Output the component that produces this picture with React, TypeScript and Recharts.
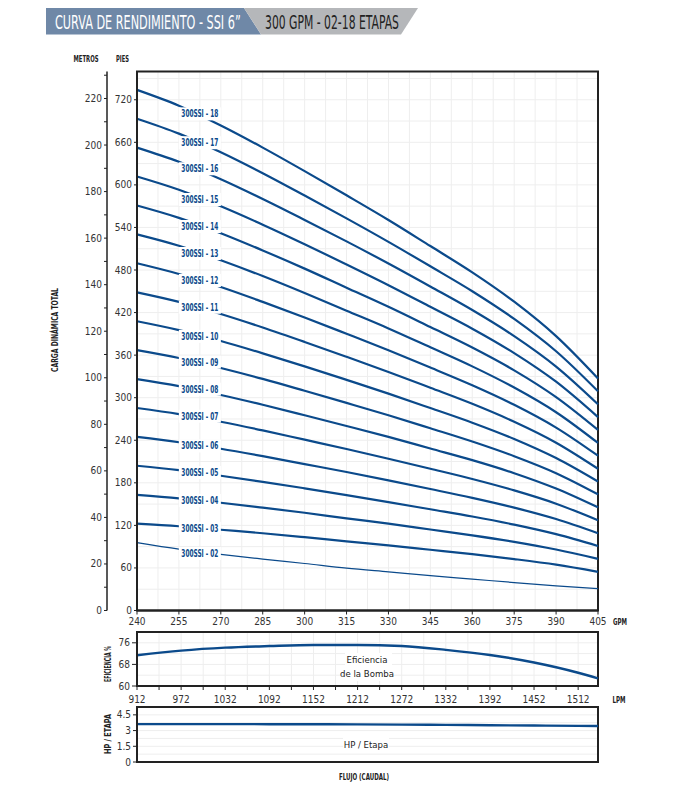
import React from "react";
import { LineChart, Line, XAxis, YAxis, CartesianGrid, ReferenceDot, ReferenceArea } from "recharts";

// caudal (GPM) en el que se leyeron las curvas
const gpm = [240, 255, 270, 285, 300, 315, 330, 345, 360, 375, 390, 405];

// carga dinámica total (metros) por número de etapas
const s02 = [29.2, 26.4, 24.1, 22.1, 20.2, 18.2, 16.6, 15.0, 13.5, 12.0, 10.6, 9.4];
const s03 = [37.3, 36.2, 34.7, 33.2, 31.5, 29.7, 28.0, 26.1, 24.2, 22.1, 19.7, 16.6];
const s04 = [49.7, 48.2, 46.3, 44.2, 42.0, 39.6, 37.3, 34.8, 32.3, 29.5, 26.2, 22.2];
const s05 = [62.2, 60.3, 57.9, 55.3, 52.5, 49.6, 46.6, 43.5, 40.4, 36.9, 32.8, 27.7];
const s06 = [74.6, 72.3, 69.5, 66.3, 62.9, 59.5, 55.9, 52.2, 48.4, 44.2, 39.3, 33.2];
const s07 = [87.0, 84.4, 81.1, 77.4, 73.4, 69.4, 65.2, 60.9, 56.5, 51.6, 45.9, 38.8];
const s08 = [99.4, 96.4, 92.6, 88.4, 83.9, 79.3, 74.6, 69.6, 64.6, 59.0, 52.4, 44.3];
const s09 = [111.9, 108.5, 104.2, 99.5, 94.4, 89.2, 83.9, 78.3, 72.6, 66.3, 59.0, 49.9];
const s10 = [124.3, 120.5, 115.8, 110.5, 104.9, 99.1, 93.2, 87.0, 80.7, 73.7, 65.5, 55.4];
const s11 = [136.7, 132.6, 127.4, 121.6, 115.4, 109.0, 102.5, 95.7, 88.8, 81.1, 72.1, 60.9];
const s12 = [149.2, 144.6, 139.0, 132.6, 125.9, 118.9, 111.8, 104.4, 96.8, 88.4, 78.6, 66.5];
const s13 = [161.6, 156.7, 150.5, 143.7, 136.4, 128.8, 121.2, 113.1, 104.9, 95.8, 85.2, 72.0];
const s14 = [174.0, 168.7, 162.1, 154.7, 146.9, 138.7, 130.5, 121.8, 113.0, 103.2, 91.7, 77.6];
const s15 = [186.5, 180.8, 173.7, 165.8, 157.4, 148.7, 139.8, 130.5, 121.1, 110.6, 98.3, 83.1];
const s16 = [198.9, 192.8, 185.3, 176.8, 167.8, 158.6, 149.1, 139.2, 129.1, 117.9, 104.8, 88.6];
const s17 = [211.3, 204.9, 196.9, 187.9, 178.3, 168.5, 158.4, 147.9, 137.2, 125.3, 111.4, 94.2];
const s18 = [223.7, 216.9, 208.4, 198.9, 188.8, 178.4, 167.8, 156.6, 145.3, 132.7, 117.9, 99.7];

const stages = ["02", "03", "04", "05", "06", "07", "08", "09", "10", "11", "12", "13", "14", "15", "16", "17", "18"];
const stageSeries = [s02, s03, s04, s05, s06, s07, s08, s09, s10, s11, s12, s13, s14, s15, s16, s17, s18];
// altura (m) de la etiqueta de cada curva
const tagHead = [24.5, 35.3, 47.3, 59.3, 70.7, 83.5, 95.1, 106.7, 117.8, 130.3, 141.8, 153.4, 165.0, 176.6, 189.8, 201.0, 213.4];
const tagGpm = 262.5;

const metrosTicks = [0, 10, 20, 30, 40, 50, 60, 70, 80, 90, 100, 110, 120, 130, 140, 150, 160, 170, 180, 190, 200, 210, 220, 230];
const piesTicks = [0, 60, 120, 180, 240, 300, 360, 420, 480, 540, 600, 660, 720];
const piesGrid = [30, 60, 90, 120, 150, 180, 210, 240, 270, 300, 330, 360, 390, 420, 450, 480, 510, 540, 570, 600, 630, 660, 690, 720, 750];
const gpmTicks = [240, 255, 270, 285, 300, 315, 330, 345, 360, 375, 390, 405];
const gpmGrid = [247.5, 255, 262.5, 270, 277.5, 285, 292.5, 300, 307.5, 315, 322.5, 330, 337.5, 345, 352.5, 360, 367.5, 375, 382.5, 390, 397.5];

// eficiencia y HP por etapa, contra LPM
const lpm = [912, 972, 1032, 1092, 1152, 1212, 1272, 1332, 1392, 1452, 1512, 1539];
const eficiencia = [71.4, 73.1, 74.2, 74.8, 75.2, 75.2, 74.8, 73.4, 71.5, 68.7, 64.9, 62.8];
const hpEtapa = [3.62, 3.62, 3.62, 3.61, 3.6, 3.59, 3.57, 3.54, 3.51, 3.48, 3.45, 3.43];
const lpmTicks = [912, 942, 972, 1002, 1032, 1062, 1092, 1122, 1152, 1182, 1212, 1242, 1272, 1302, 1332, 1362, 1392, 1422, 1452, 1482, 1512];
const effTicks = [60, 68, 76];
const hpTicks = [0, 1.5, 3, 4.5];

const FT = 0.3048; // pies -> metros, para alinear el eje de pies con el de metros
const TOP_M = 231.6;

const headData = gpm.map((q, i) => {
  const row: any = { gpm: q };
  stages.forEach((st, k) => (row["s" + st] = stageSeries[k][i]));
  return row;
});
const lowerData = lpm.map((l, i) => ({ lpm: l, ef: eficiencia[i], hp: hpEtapa[i] }));

const COND = "'Liberation Sans Narrow', 'DejaVu Sans Condensed', 'Roboto Condensed', sans-serif";
const NAVY = "#0b4a8b";
const FRAME = "#222";

const TickText = (props: any) => {
  const { x, y, payload, show, fmt } = props;
  if (show && !show(payload.value)) return null;
  return (
    <text x={x} y={y} dy={props.dy ?? 3.5} textAnchor={props.textAnchor} fontFamily={COND} fontSize={10} fill="#333">
      {fmt ? fmt(payload.value) : payload.value}
    </text>
  );
};

const StageTag = (props: any) => {
  const { cx, cy, label } = props;
  return (
    <g>
      <rect x={cx - 21} y={cy - 6.5} width={42} height={13} fill="#fff" />
      <text x={cx} y={cy + 3.5} textAnchor="middle" fontFamily={COND} fontWeight="bold" fontSize={10.5}
        fill={NAVY} textLength={37} lengthAdjust="spacingAndGlyphs">
        {label}
      </text>
    </g>
  );
};

export default function App() {
  return (
    <div style={{ position: "absolute", left: 0, top: 0, width: 678, height: 792, background: "#fff" }}>
      {/* curvas de carga */}
      <div style={{ position: "absolute", left: 0, top: 0 }}>
        <LineChart width={678} height={640} data={headData} margin={{ top: 71.5, right: 80, bottom: 7.5, left: 77 }}>
          <CartesianGrid yAxisId="m" horizontalValues={piesGrid.map((f) => f * FT)} verticalValues={gpmGrid} stroke="#eeeeee" />
          <XAxis dataKey="gpm" type="number" domain={[240, 405]} ticks={gpmTicks} height={22} tickSize={4}
            axisLine={{ stroke: FRAME, strokeWidth: 2 }} tickLine={{ stroke: FRAME }}
            tick={<TickText dy={8} />} interval={0} />
          <YAxis yAxisId="ft" type="number" domain={[0, TOP_M]} allowDataOverflow ticks={piesTicks.map((f) => f * FT)} width={30} tickSize={3}
            axisLine={{ stroke: FRAME, strokeWidth: 2 }} tickLine={{ stroke: FRAME }} interval={0}
            tick={<TickText fmt={(v: number) => Math.round(v / FT)} />} />
          <YAxis yAxisId="m" type="number" domain={[0, TOP_M]} allowDataOverflow ticks={metrosTicks} width={30} tickSize={3}
            axisLine={{ stroke: FRAME, strokeWidth: 1.5 }} tickLine={{ stroke: FRAME }}
            tick={<TickText show={(v: number) => v % 20 === 0 && v <= 220} />} interval={0} />
          {stages.map((st) => (
            <Line key={st} yAxisId="m" dataKey={"s" + st} type="monotone" stroke={NAVY}
              strokeWidth={st === "02" ? 1.2 : 2.2} dot={false} isAnimationActive={false} />
          ))}
          <Line yAxisId="ft" dataKey="s02" stroke="none" dot={false} legendType="none" isAnimationActive={false} />
          {stages.map((st, k) => (
            <ReferenceDot key={"t" + st} yAxisId="m" x={tagGpm} y={tagHead[k]} r={0}
              shape={(p: any) => <StageTag {...p} label={`300SSI - ${st}`} />} />
          ))}
          <ReferenceArea yAxisId="m" x1={240} x2={405} y1={0} y2={TOP_M} fill="none" stroke={FRAME} strokeWidth={2} ifOverflow="visible" />
        </LineChart>
      </div>

      {/* eficiencia */}
      <div style={{ position: "absolute", left: 0, top: 620 }}>
        <LineChart width={678} height={90} data={lowerData} margin={{ top: 4, right: 80, bottom: 4, left: 107 }}>
          <CartesianGrid xAxisId="lpm" yAxisId="e" horizontalValues={[64, 68, 72, 76]} verticalValues={lpmTicks} stroke="#eeeeee" />
          <XAxis xAxisId="gpm" orientation="top" type="number" domain={[240, 405]} allowDataOverflow ticks={gpmTicks} height={8} tickSize={4}
            axisLine={false} tickLine={{ stroke: FRAME }} tick={false} />
          <XAxis xAxisId="lpm" dataKey="lpm" type="number" domain={[912, 1539]} ticks={lpmTicks} height={20} tickSize={4}
            axisLine={{ stroke: FRAME, strokeWidth: 2 }} tickLine={{ stroke: FRAME }} interval={0}
            tick={<TickText dy={11} show={(v: number) => (v - 912) % 60 === 0} />} />
          <YAxis yAxisId="e" type="number" domain={[60, 80]} ticks={effTicks} width={30} tickSize={5}
            axisLine={{ stroke: FRAME, strokeWidth: 2 }} tickLine={{ stroke: FRAME }} tick={<TickText />} interval={0} />
          <Line xAxisId="lpm" yAxisId="e" dataKey="ef" type="monotone" stroke={NAVY} strokeWidth={2.4} dot={false} isAnimationActive={false} />
          <Line xAxisId="gpm" yAxisId="e" dataKey="none" stroke="none" dot={false} isAnimationActive={false} />
          <ReferenceArea xAxisId="lpm" yAxisId="e" x1={912} x2={1539} y1={60} y2={80} fill="none" stroke={FRAME} strokeWidth={2} ifOverflow="visible" />
        </LineChart>
      </div>

      {/* HP por etapa */}
      <div style={{ position: "absolute", left: 0, top: 698 }}>
        <LineChart width={678} height={72} data={lowerData} margin={{ top: 3, right: 80, bottom: 8, left: 107 }}>
          <CartesianGrid xAxisId="lpm" yAxisId="h" horizontalValues={[0.75, 1.5, 2.25, 3, 3.75, 4.5]} verticalValues={lpmTicks} stroke="#eeeeee" />
          <XAxis xAxisId="lpm" dataKey="lpm" orientation="top" type="number" domain={[912, 1539]} ticks={lpmTicks} height={6} tickSize={4}
            axisLine={false} tickLine={{ stroke: FRAME }} tick={false} />
          <YAxis yAxisId="h" type="number" domain={[0, 5.25]} ticks={hpTicks} width={30} tickSize={4}
            axisLine={{ stroke: FRAME, strokeWidth: 2 }} tickLine={{ stroke: FRAME }} tick={<TickText />} interval={0} />
          <Line xAxisId="lpm" yAxisId="h" dataKey="hp" type="monotone" stroke={NAVY} strokeWidth={2.4} dot={false} isAnimationActive={false} />
          <ReferenceArea xAxisId="lpm" yAxisId="h" x1={912} x2={1539} y1={0} y2={5.25} fill="none" stroke={FRAME} strokeWidth={2} ifOverflow="visible" />
        </LineChart>
      </div>

      {/* textos */}
      <svg width={678} height={792} style={{ position: "absolute", left: 0, top: 0, pointerEvents: "none" }}>
        <polygon points="46,8 244,8 261,34.5 46,34.5" fill="#6f88a7" />
        <polygon points="244,8 418,8 401,34.5 261,34.5" fill="#b5b7ba" />
        <g transform="translate(55,28.5) scale(0.72,1)">
          <text x={0} y={0} fontFamily={COND} fontSize={19} fill="#fff" textLength={258} lengthAdjust="spacingAndGlyphs">
            CURVA DE RENDIMIENTO - SSI 6”
          </text>
        </g>
        <g transform="translate(265,28.5) scale(0.72,1)">
          <text x={0} y={0} fontFamily={COND} fontSize={19} fill="#222" textLength={186} lengthAdjust="spacingAndGlyphs">
            300 GPM - 02-18 ETAPAS
          </text>
        </g>

        <text x={86} y={62} textAnchor="middle" fontFamily={COND} fontWeight="bold" fontSize={9} fill="#222" textLength={25} lengthAdjust="spacingAndGlyphs">METROS</text>
        <text x={122.5} y={62} textAnchor="middle" fontFamily={COND} fontWeight="bold" fontSize={9} fill="#222" textLength={13} lengthAdjust="spacingAndGlyphs">PIES</text>
        <text x={0} y={0} transform="translate(58,330) rotate(-90)" textAnchor="middle" fontFamily={COND} fontWeight="bold" fontSize={9} fill="#222" textLength={84} lengthAdjust="spacingAndGlyphs">CARGA DINÁMICA TOTAL</text>
        <text x={620} y={624.5} textAnchor="middle" fontFamily={COND} fontWeight="bold" fontSize={9.5} fill="#222" textLength={14} lengthAdjust="spacingAndGlyphs">GPM</text>
        <text x={619} y={703} textAnchor="middle" fontFamily={COND} fontWeight="bold" fontSize={9.5} fill="#222" textLength={13} lengthAdjust="spacingAndGlyphs">LPM</text>
        <text x={0} y={0} transform="translate(111,664) rotate(-90)" textAnchor="middle" fontFamily={COND} fontWeight="bold" fontSize={9} fill="#222" textLength={36} lengthAdjust="spacingAndGlyphs">EFICIENCIA %</text>
        <text x={0} y={0} transform="translate(111,734) rotate(-90)" textAnchor="middle" fontFamily={COND} fontWeight="bold" fontSize={9} fill="#222" textLength={40} lengthAdjust="spacingAndGlyphs">HP / ETAPA</text>

        <rect x={345} y={653} width={47} height={28} fill="#fff" />
        <text x={367} y={663} textAnchor="middle" fontFamily={COND} fontSize={9.5} fill="#222">Eficiencia</text>
        <text x={367} y={677} textAnchor="middle" fontFamily={COND} fontSize={9.5} fill="#222">de la Bomba</text>
        <rect x={343} y={737} width={46} height={16} fill="#fff" />
        <text x={366} y={748} textAnchor="middle" fontFamily={COND} fontSize={9.5} fill="#222">HP / Etapa</text>

        <text x={364} y={780} textAnchor="middle" fontFamily={COND} fontWeight="bold" fontSize={9.5} fill="#222" textLength={50} lengthAdjust="spacingAndGlyphs">FLUJO (CAUDAL)</text>
      </svg>
    </div>
  );
}
